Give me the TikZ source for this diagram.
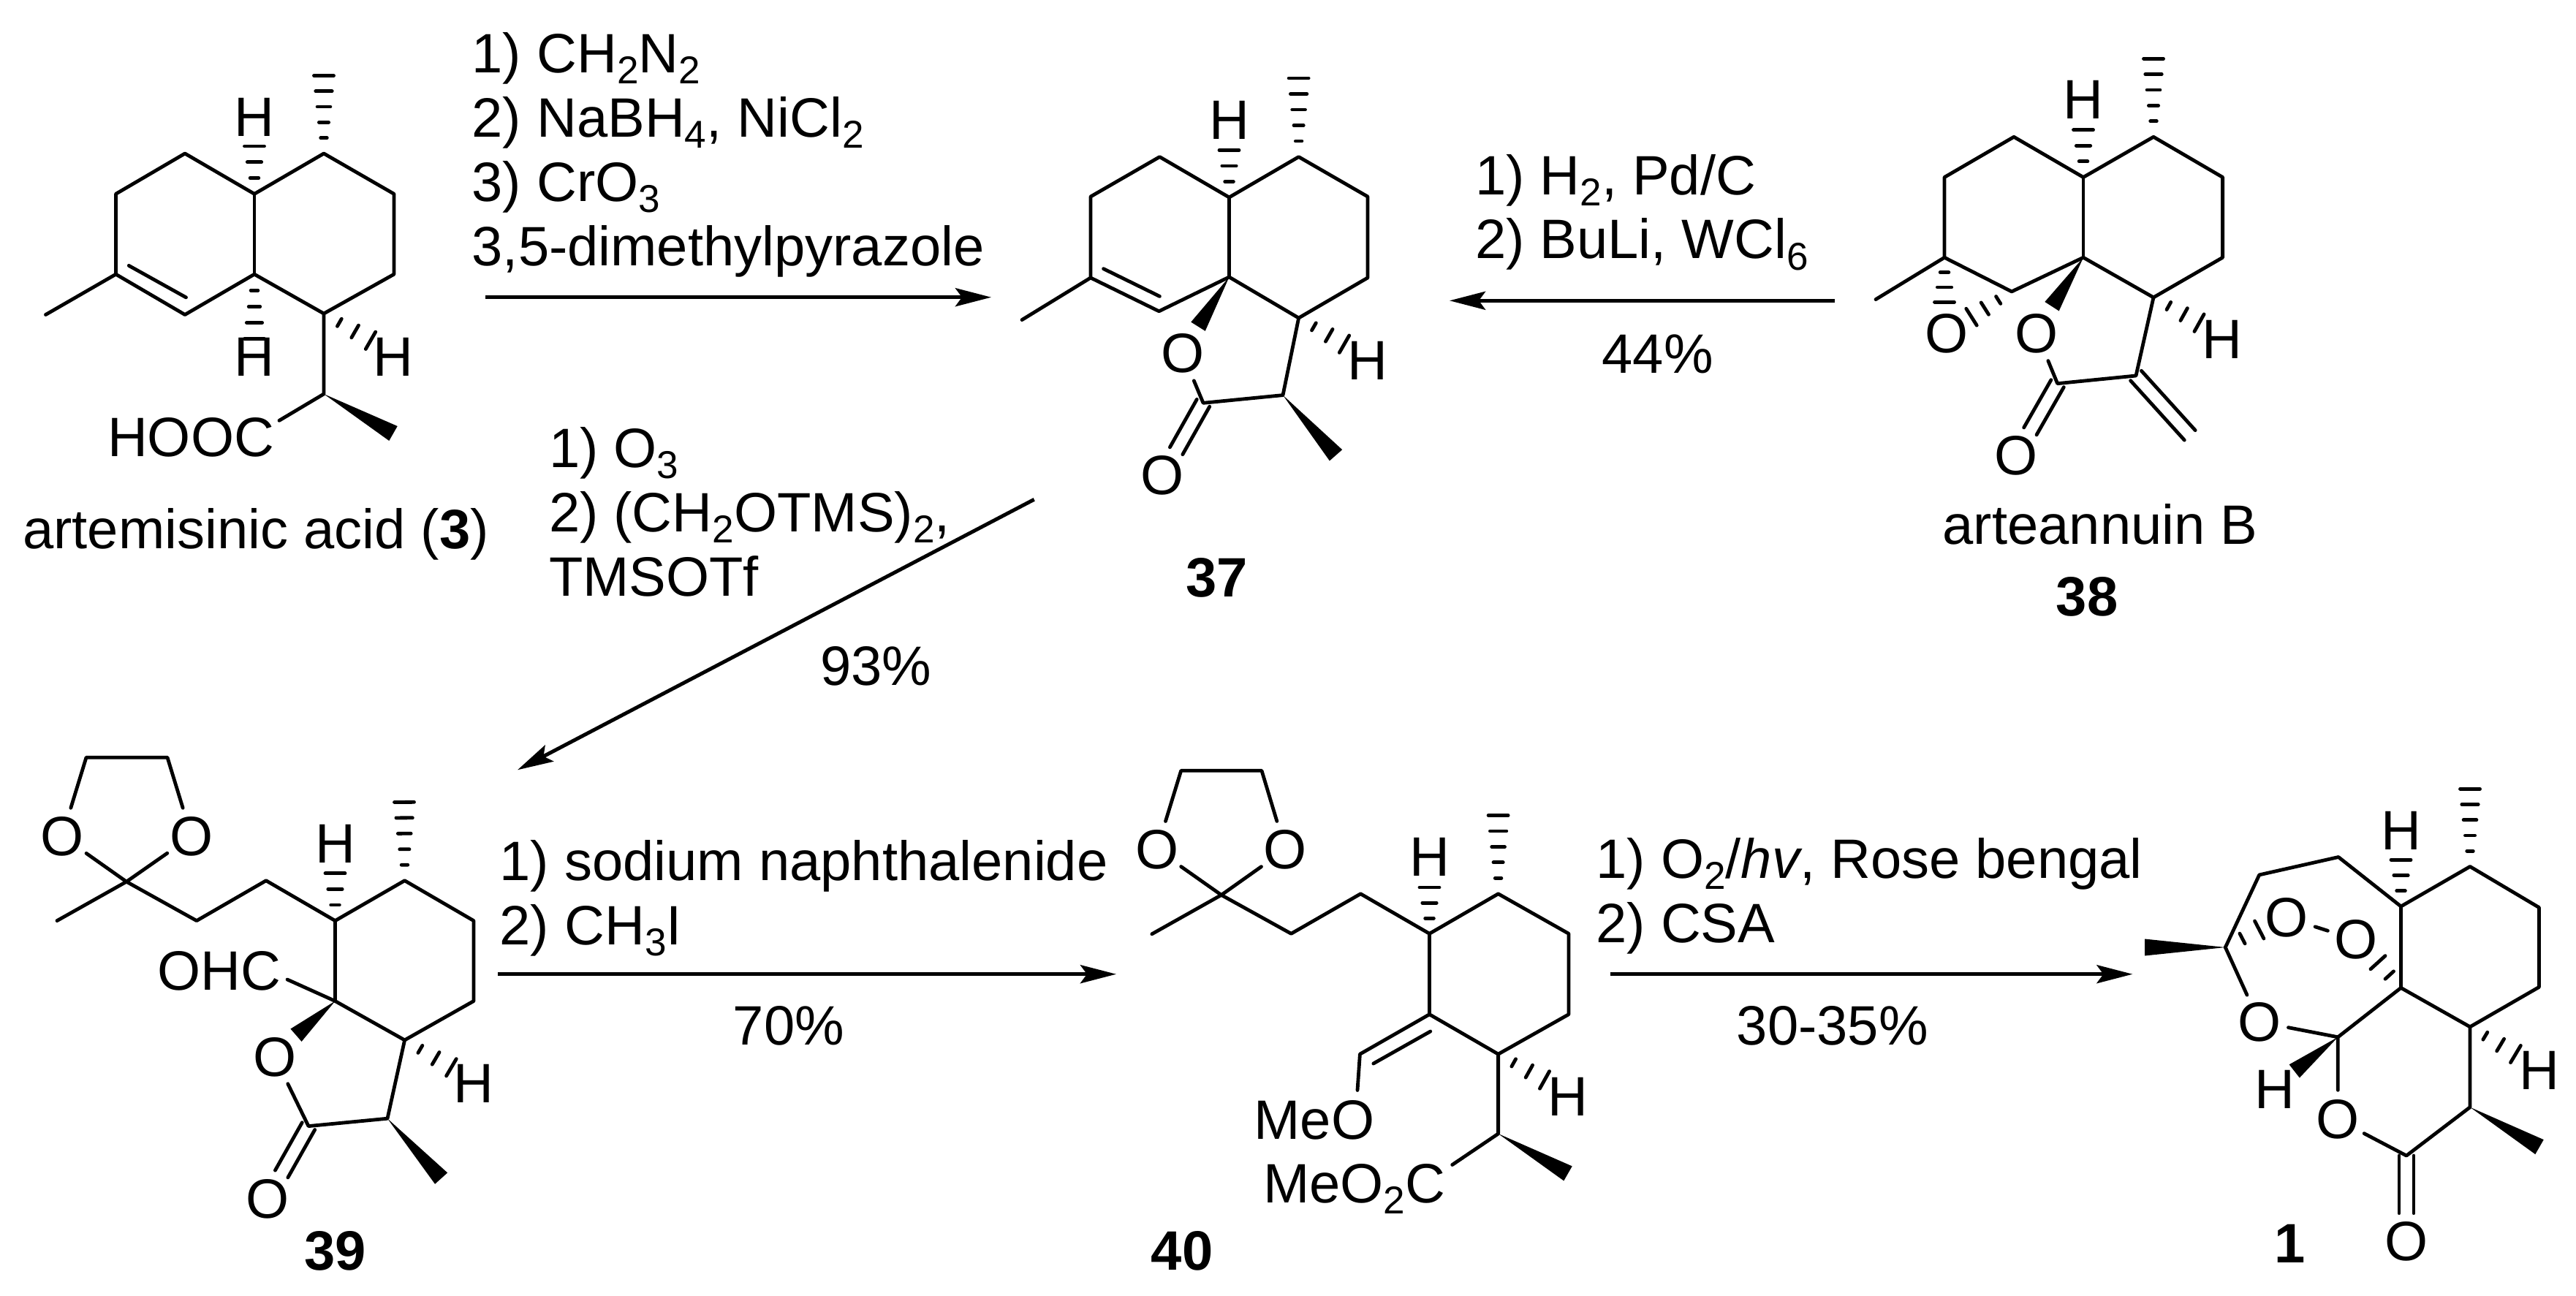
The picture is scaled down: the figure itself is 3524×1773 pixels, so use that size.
\documentclass[tikz,border=0pt]{standalone}
\usepackage{fontspec}
\setmainfont{Liberation Sans}
\usetikzlibrary{calc}
\usetikzlibrary{arrows.meta}

\newcommand{\chemsub}[1]{\raisebox{-0.15cm}{\fontsize{15.1}{15}\selectfont #1}}
\newcommand{\hashbond}[3]{%
  \foreach \k in {1,...,#3}{%
    \pgfmathsetmacro{\hw}{0.02+0.115*\k/#3}
    \coordinate (hp) at ($(#1)!\k/#3!(#2)$);
    \draw[bond] ($(hp)!\hw cm!90:(#1)$) -- ($(hp)!\hw cm!-90:(#1)$);
  }}
\newcommand{\wedgebond}[2]{%
  \fill ($(#2)!0.115cm!90:(#1)$) -- ($(#2)!0.115cm!-90:(#1)$) -- (#1) -- cycle;}
\newcommand{\dblbond}[3][]{%
  \draw[bond,#1] ($(#2)!0.1cm!90:(#3)$) -- ($(#3)!0.1cm!-90:(#2)$);
  \draw[bond,#1] ($(#2)!0.1cm!-90:(#3)$) -- ($(#3)!0.1cm!90:(#2)$);}

\tikzset{
  every node/.style={inner sep=0pt,font=\fontsize{21.6}{25}\selectfont},
  bond/.style={line width=0.048cm,line cap=round,line join=round},
  atom/.style={circle,inner sep=0pt},
  reagent/.style={anchor=base west,align=left},
  caption/.style={anchor=base},
  rxn/.style={line width=0.05cm,-{Stealth[length=0.49cm,width=0.25cm,inset=0.09cm]}},
  toO/.style={shorten >=0.39cm}
}

\begin{document}
\begin{tikzpicture}[x=0.01cm,y=-0.01cm]
  \useasboundingbox (0,0) rectangle (3524,1773);

  \foreach \n/\x/\y in {1/62.5/430.5,2/158.5/375.2,3/158.5/265.3,4/253/210,5/348/265.3,6/348/375.2,
    7/253/430.5,8/443/210,9/539/265.3,10/539/375.2,11/443/429,12/443/539,13/443/103.4,14/348/200,
    15/348/463.5,16/507/465.8,17/538/593,18/382/575.3,19/176.3/363.4,20/254.5/406.9}
    \coordinate (a\n) at (\x,\y);
  \draw[bond] (a1) -- (a2) -- (a3) -- (a4) -- (a5) -- (a8) -- (a9) -- (a10) -- (a11) -- (a6) -- (a7) -- (a2);
  \draw[bond] (a5) -- (a6);
  \draw[bond] (a11) -- (a12) -- (a18);
  \draw[bond] (a19) -- (a20);
  \hashbond{a8}{a13}{5}
  \hashbond{a5}{a14}{3}
  \hashbond{a6}{a15}{4}
  \hashbond{a11}{a16}{3}
  \wedgebond{a12}{a17}
  \node[atom] (aH1) at (348,160) {H};
  \node[atom] (aH2) at (348,488) {H};
  \node[atom] (aH3) at (538,488) {H};
  \node (aCOOH) at (261,598) {HOOC};
  \node[caption] (aname) at (350,750) {artemisinic acid (\textbf{3})};

  \foreach \n/\x/\y in {1/1398/437.6,2/1492/380,3/1492/269,4/1586.4/214.6,5/1681.5/270,6/1681.5/379,
    7/1585.5/425.8,8/1776.6/214.6,9/1871/269,10/1871/380,11/1776.6/435,12/1755/540.6,13/1646/551.3,
    14/1776.6/107,15/1681.5/205.4,16/1839/470.7,17/1639/446.7,18/1827.5/622.8,19/1509.6/367.7,20/1586.4/405.4}
    \coordinate (b\n) at (\x,\y);
  \node[atom] (bO1) at (1617.7,483.5) {O};
  \node[atom] (bO2) at (1590,650.8) {O};
  \dblbond[toO]{b13}{bO2}
  \draw[bond] (b1) -- (b2) -- (b3) -- (b4) -- (b5) -- (b8) -- (b9) -- (b10) -- (b11) -- (b6) -- (b7) -- (b2);
  \draw[bond] (b5) -- (b6);
  \draw[bond] (b11) -- (b12) -- (b13) -- (bO1);
  \draw[bond] (b19) -- (b20);
  \hashbond{b8}{b14}{5}
  \hashbond{b5}{b15}{3}
  \hashbond{b11}{b16}{3}
  \wedgebond{b6}{b17}
  \wedgebond{b12}{b18}
  \node[atom] (bH1) at (1681.5,164.6) {H};
  \node[atom] (bH2) at (1871,493.7) {H};
  \node (blabel) at (1664.5,790.6) {\textbf{37}};

  \foreach \n/\x/\y in {1/2566/409.6,2/2660/352.3,3/2660/242.5,4/2755/187.3,5/2850/242.5,6/2850/352.3,
    7/2752/398.9,8/2946/187.3,9/3040.6/242.5,10/3040.6/352.3,11/2946/406.9,12/2922/514,13/2814.6/524.7,
    14/2946/80.2,15/2850/177.7,16/3008.5/441.7,17/2807/419.2,18/2660/413.3,19/2697/433.7,20/2995.7/595.4}
    \coordinate (c\n) at (\x,\y);
  \node[atom] (cO1) at (2786.5,456.2) {O};
  \node[atom] (cO2) at (2758,623.8) {O};
  \node[atom] (cO3) at (2663,456.7) {O};
  \dblbond[toO]{c13}{cO2}
  \dblbond{c12}{c20}
  \draw[bond] (c1) -- (c2) -- (c3) -- (c4) -- (c5) -- (c8) -- (c9) -- (c10) -- (c11) -- (c6) -- (c7) -- (c2);
  \draw[bond] (c5) -- (c6);
  \draw[bond] (c11) -- (c12) -- (c13) -- (cO1);
  \hashbond{c8}{c14}{5}
  \hashbond{c5}{c15}{3}
  \hashbond{c11}{c16}{3}
  \hashbond{c2}{c18}{3}
  \hashbond{c7}{c19}{3}
  \wedgebond{c6}{c17}
  \node[atom] (cH1) at (2850,136.4) {H};
  \node[atom] (cH2) at (3040,464.7) {H};
  \node[caption] (cname) at (2873,744.3) {arteannuin B};
  \node (clabel) at (2855,816.7) {\textbf{38}};

  \foreach \n/\x/\y in {1/78/1259.6,2/173/1206.2,3/118/1036.2,4/229/1036.2,5/269/1259.6,6/364/1204.7,
    7/458.5/1259.6,8/553.6/1204.7,9/648/1259.6,10/648/1369.5,11/553.6/1422.9,12/458.5/1369.5,13/530/1530.2,
    14/422/1540.6,15/553/1097.4,16/458.5/1194.8,17/617.4/1460.3,18/405/1416.2,19/603.6/1612.1,20/393/1340}
    \coordinate (d\n) at (\x,\y);
  \node[atom] (dO1) at (85,1144) {O};
  \node[atom] (dO2) at (262,1144) {O};
  \node[atom] (dO3) at (376,1446.3) {O};
  \node[atom] (dO4) at (366,1640) {O};
  \dblbond[toO]{d14}{dO4}
  \draw[bond] (d1) -- (d2) -- (d5) -- (d6) -- (d7) -- (d8) -- (d9) -- (d10) -- (d11) -- (d12) -- (d7);
  \draw[bond] (dO1) -- (d3) -- (d4) -- (dO2);
  \draw[bond] (dO1) -- (d2) -- (dO2);
  \draw[bond] (d11) -- (d13) -- (d14) -- (dO3);
  \draw[bond] (d12) -- (d20);
  \hashbond{d8}{d15}{5}
  \hashbond{d7}{d16}{3}
  \hashbond{d11}{d17}{3}
  \wedgebond{d12}{d18}
  \wedgebond{d13}{d19}
  \node[atom] (dH1) at (458.5,1154.4) {H};
  \node[atom] (dH2) at (648,1482) {H};
  \node (dCHO) at (300,1328) {OHC};
  \node (dlabel) at (458.5,1711.7) {\textbf{39}};

  \foreach \n/\x/\y in {1/1575.8/1277.8,2/1670.8/1224.4,3/1615.7/1054.3,4/1726/1054.3,5/1766.3/1277.3,
    6/1861.3/1222.8,7/1955.5/1277.3,8/2049.6/1222.8,9/2146/1277.3,10/2146/1387.7,11/2049.6/1442.1,
    12/1955.5/1387.7,13/1860.4/1442.1,14/2049.6/1551,15/1857/1491.4,16/1986.7/1593.5,17/2145/1605.4,
    18/2049.6/1115.5,19/1955.5/1214,20/2113/1477.4,21/1878.8/1455,22/1956.8/1411}
    \coordinate (e\n) at (\x,\y);
  \node[atom] (eO1) at (1582.6,1162.2) {O};
  \node[atom] (eO2) at (1758.5,1162.2) {O};
  \draw[bond] (e1) -- (e2) -- (e5) -- (e6) -- (e7) -- (e8) -- (e9) -- (e10) -- (e11) -- (e12) -- (e7);
  \draw[bond] (eO1) -- (e3) -- (e4) -- (eO2);
  \draw[bond] (eO1) -- (e2) -- (eO2);
  \draw[bond] (e15) -- (e13) -- (e12);
  \draw[bond] (e21) -- (e22);
  \draw[bond] (e11) -- (e14) -- (e16);
  \hashbond{e8}{e18}{5}
  \hashbond{e7}{e19}{3}
  \hashbond{e11}{e20}{3}
  \wedgebond{e14}{e17}
  \node[atom] (eH1) at (1955.5,1172.5) {H};
  \node[atom] (eH2) at (2145,1500.7) {H};
  \node[anchor=base east] (eOMe) at (1881,1558.8) {MeO};
  \node[anchor=base east] (eCO) at (1978,1645.3) {MeO\chemsub{2}C};
  \node (elabel) at (1617,1711.7) {\textbf{40}};

  \foreach \n/\x/\y in {1/2934/1296,2/3044.3/1296,3/3090.7/1196.9,4/3199/1172.5,5/3284.5/1240,6/3379/1185.5,
    7/3473.4/1241.5,8/3473.4/1350.4,9/3379/1404.8,10/3284.5/1351.4,11/3198.3/1418.8,12/3379/1514.7,
    13/3292/1581,14/3138.7/1465.4,15/3474/1569.1,16/3090.7/1272,17/3253/1316.7,18/3379/1079.2,
    19/3284.5/1176.2,20/3441.4/1442}
    \coordinate (f\n) at (\x,\y);
  \node[atom] (fO1) at (3090.7,1398) {O};
  \node[atom] (fO2) at (3198.3,1531.8) {O};
  \node[atom] (fO3) at (3292,1698.7) {O};
  \node[atom] (fO4) at (3128.5,1255.5) {O};
  \node[atom] (fO5) at (3223,1285.6) {O};
  \dblbond[toO]{f13}{fO3}
  \draw[bond] (f2) -- (f3) -- (f4) -- (f5) -- (f6) -- (f7) -- (f8) -- (f9) -- (f10) -- (f5);
  \draw[bond] (f10) -- (f11) -- (fO2) -- (f13) -- (f12) -- (f9);
  \draw[bond] (f2) -- (fO1) -- (f11);
  \draw[bond] (fO4) -- (fO5);
  \hashbond{f2}{f16}{2}
  \hashbond{f10}{f17}{2}
  \hashbond{f6}{f18}{5}
  \hashbond{f5}{f19}{3}
  \hashbond{f9}{f20}{3}
  \wedgebond{f2}{f1}
  \wedgebond{f11}{f14}
  \wedgebond{f12}{f15}
  \node[atom] (fH1) at (3284.5,1136.3) {H};
  \node[atom] (fH2) at (3473.4,1463.9) {H};
  \node[atom] (fH3) at (3112,1490.3) {H};
  \node (flabel) at (3132.6,1701.3) {\textbf{1}};

  \coordinate (r1s) at (664,406.7);
  \coordinate (r1e) at (1356,406.7);
  \coordinate (r2s) at (2510,411.3);
  \coordinate (r2e) at (1983,411.3);
  \coordinate (r3s) at (1414.7,683.3);
  \coordinate (r3e) at (708,1053.3);
  \coordinate (r4s) at (681,1332.7);
  \coordinate (r4e) at (1527,1332.7);
  \coordinate (r5s) at (2203,1332.7);
  \coordinate (r5e) at (2917.4,1332.7);
  \draw[rxn] (r1s) -- (r1e);
  \draw[rxn] (r2s) -- (r2e);
  \draw[rxn] (r3s) -- (r3e);
  \draw[rxn] (r4s) -- (r4e);
  \draw[rxn] (r5s) -- (r5e);

  \node[reagent] (rg1) at (645,363.3) {1) CH\chemsub{2}N\chemsub{2}\\2) NaBH\chemsub{4}, NiCl\chemsub{2}\\3) CrO\chemsub{3}\\3,5-dimethylpyrazole};
  \node[reagent] (rg2) at (2017.4,354) {1) H\chemsub{2}, Pd/C\\2) BuLi, WCl\chemsub{6}};
  \node[reagent] (rg3) at (750.4,815) {1) O\chemsub{3}\\2) (CH\chemsub{2}OTMS)\chemsub{2},\\TMSOTf};
  \node[reagent] (rg4) at (683,1292.7) {1) sodium naphthalenide\\2) CH\chemsub{3}I};
  \node[reagent] (rg5) at (2182.8,1289) {1) O\chemsub{2}/\textit{hv}, Rose bengal\\2) CSA};
  \node[caption] (y2) at (2267.7,510.7) {44\%};
  \node[caption] (y3) at (1198.4,937.3) {93\%};
  \node[caption] (y4) at (1079,1429) {70\%};
  \node[caption] (y5) at (2506.7,1429) {30-35\%};
\end{tikzpicture}
\end{document}
